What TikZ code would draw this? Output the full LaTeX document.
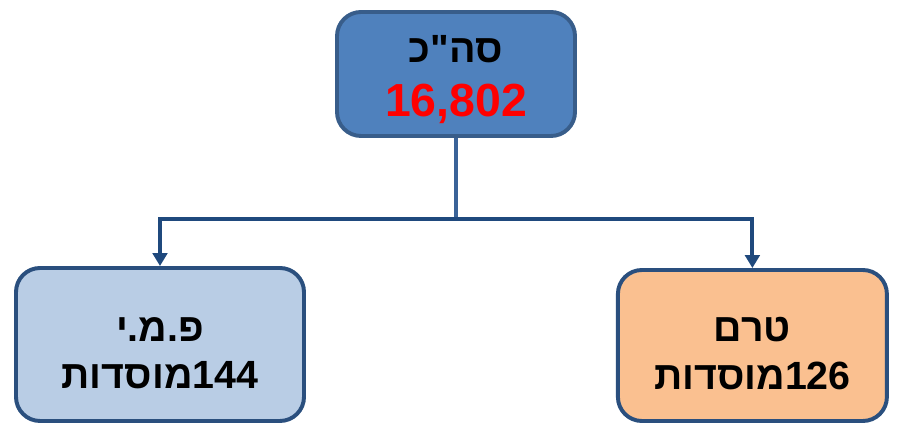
\documentclass[tikz,border=0pt]{standalone}
\usepackage{fontspec}
\setmainfont{Liberation Sans}
\newfontfamily\hebfont[Script=Hebrew]{Liberation Sans}
\TeXXeTstate=1
\usetikzlibrary{arrows.meta}

\definecolor{topfill}{HTML}{4F81BD}
\definecolor{topline}{HTML}{385D8A}
\definecolor{leftfill}{HTML}{B9CDE5}
\definecolor{rightfill}{HTML}{FAC090}
\definecolor{boxline}{HTML}{2A4F7E}
\definecolor{linkblue}{HTML}{1F497D}
\definecolor{stemblue}{HTML}{3A6398}

\begin{document}
\begin{tikzpicture}[
    box/.style={draw=boxline, line width=2.8pt, rounded corners=0.6cm, inner sep=0pt},
    boxtext/.style={inner sep=0pt, align=center, font=\hebfont\bfseries\fontsize{28}{34}\selectfont},
    link/.style={draw=linkblue, line width=2.8pt},
  ]
  \useasboundingbox (0,0) rectangle (22.425,10.625);

  % Draw the total box at the top
  \node[box, draw=topline, fill=topfill, minimum width=5.95cm, minimum height=3.1cm] (total) at (11.4,8.775) {};
  \node[boxtext] (totalText) at ([yshift=-0.14cm]total.center)
    {\beginR סה"כ\endR\\[5pt] {\color{red}\fontsize{33}{38}\selectfont 16,802}};

  % Draw the two boxes below
  \node[box, fill=leftfill, minimum width=7.2cm, minimum height=3.825cm] (pmi) at (4.0,2.0125) {};
  \node[boxtext] (pmiText) at ([yshift=-0.22cm]pmi.center)
    {\beginR פ.מ.י\endR\\ \beginR\beginL 144\endL{}מוסדות\endR};
  \node[box, fill=rightfill, minimum width=6.725cm, minimum height=3.775cm] (terem) at (18.81,1.9875) {};
  \node[boxtext] (teremText) at ([yshift=-0.2cm]terem.center)
    {\beginR טרם\endR\\ \beginR\beginL 126\endL{}מוסדות\endR};

  % Split point under the total box
  \coordinate (split) at (11.4,5.15);

  % Add the connectors
  \draw[draw=stemblue, line width=2.6pt] (total.south) -- (split);
  \draw[link, -{Triangle[width=0.36cm, length=0.32cm]}] (split) -| (pmi.north);
  \draw[link, -{Triangle[width=0.36cm, length=0.32cm]}] (split) -| (terem.north);
\end{tikzpicture}
\end{document}
